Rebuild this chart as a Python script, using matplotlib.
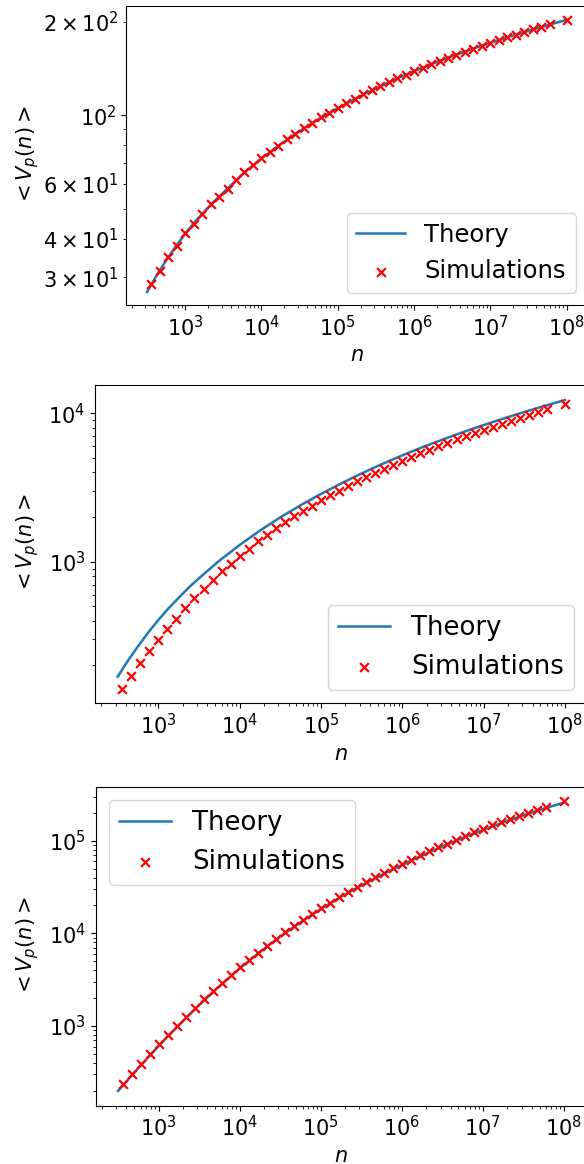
import matplotlib
matplotlib.use("Agg")
import matplotlib.pyplot as plt

# ---------------- data ----------------
n_theory = [316.2, 421.7, 562.3, 749.9, 1000, 1333.5, 1778, 2371.4, 3162, 5623, 1.0e4,
            1.7783e4, 3.1623e4, 5.6234e4, 1.0e5, 1.77828e5, 3.16228e5, 5.62341e5, 1.0e6,
            1.778279e6, 3.162278e6, 5.623413e6, 1.0e7, 1.7782794e7, 3.1622777e7,
            5.6234133e7, 1.0e8]

n_sim = [359.4, 464.2, 599.5, 774.3, 1000, 1291.5, 1668.1, 2154.4, 2782.6, 3593.8,
         4641.6, 5994.8, 7742.6, 1.0e4, 1.2915e4, 1.6681e4, 2.1544e4, 2.7826e4, 3.5938e4,
         4.6416e4, 5.9948e4, 7.7426e4, 1.0e5, 1.2915e5, 1.6681e5, 2.1544e5, 2.7826e5,
         3.5938e5, 4.6416e5, 5.9948e5, 7.7426e5, 1.0e6, 1.2915e6, 1.6681e6, 2.1544e6,
         2.7826e6, 3.5938e6, 4.6416e6, 5.9948e6, 7.7426e6, 1.0e7, 1.2915e7, 1.6681e7,
         2.1544e7, 2.7826e7, 3.5938e7, 4.6416e7, 5.9948e7, 1.0e8]

theory_top = [26.9, 30.4, 34.0, 37.7, 41.5, 45.2, 48.9, 52.6, 56.3, 64.5, 72.6, 80.7,
              88.9, 97.2, 105.4, 113.8, 122.1, 130.5, 138.8, 147.0, 155.2, 163.3, 171.3,
              179.3, 187.3, 195.3, 203.2]
sim_top = [28.5, 31.5, 34.8, 38.0, 41.6, 44.6, 47.9, 51.6, 54.6, 57.9, 61.8, 65.8, 69.3,
           73.0, 76.0, 79.8, 83.7, 86.9, 90.8, 94.2, 98.5, 102.0, 105.5, 109.2, 113.0,
           116.7, 120.4, 124.1, 127.8, 131.5, 135.2, 139.0, 142.6, 146.2, 149.8, 153.4,
           157.0, 160.6, 164.2, 167.8, 171.3, 174.9, 178.5, 182.1, 185.7, 189.3, 192.9,
           196.5, 203.5]

theory_mid = [168, 215, 269, 333, 405, 485, 571, 670, 774, 1016, 1297, 1622, 1991, 2404,
              2864, 3373, 3936, 4550, 5212, 5916, 6668, 7482, 8337, 9247, 10209, 11220,
              12303]
sim_mid = [138, 171, 209, 249, 296, 350, 412, 485, 566, 656, 755, 861, 973, 1096, 1227,
           1371, 1521, 1679, 1845, 2023, 2203, 2393, 2600, 2805, 3020, 3243, 3483, 3724,
           3981, 4246, 4519, 4797, 5082, 5383, 5689, 5998, 6339, 6668, 7031, 7379, 7762,
           8128, 8531, 8913, 9311, 9750, 10162, 10617, 11561]

theory_bot = [199, 265, 351, 462, 607, 790, 1023, 1315, 1679, 2685, 4169, 6295, 9226,
              13152, 18281, 24831, 32885, 42658, 54702, 69183, 86696, 107152, 130918,
              157761, 187932, 221820, 258226]
sim_bot = [237, 304, 390, 498, 635, 802, 1009, 1259, 1567, 1936, 2382, 2917, 3540, 4295,
           5152, 6180, 7345, 8710, 10257, 12023, 14028, 16218, 18793, 21528, 24660, 28054,
           31769, 35810, 40179, 45082, 50350, 56234, 62373, 69343, 76736, 84723, 93325,
           102565, 112720, 123027, 134586, 146218, 159221, 172187, 186209, 201372, 216770,
           233346, 269153]

x_ticks = [1e3, 1e4, 1e5, 1e6, 1e7, 1e8]
labels = ["Theory", "Simulations"]
ylabel = r"$<V_p(n)>$"
xlabel = r"$n$"

# ---------------- figure ----------------
W, H = 584, 1164
fig = plt.figure(figsize=(W / 100, H / 100), dpi=100)

def px_axes(left, top, right, bottom):
    return fig.add_axes([left / W, 1 - bottom / H, (right - left) / W, (bottom - top) / H])

panels = [
    dict(box=(126, 6, 587.7, 305), ylim=(24.43, 225.2), th=theory_top, sm=sim_top,
         loc="lower right", lfs=17.5, ylx=41),
    dict(box=(95.3, 384.7, 587.3, 703.3), ylim=(111.2, 15596), th=theory_mid, sm=sim_mid,
         loc="lower right", lfs=18.7, ylx=41),
    dict(box=(95.7, 786.7, 586.3, 1105.7), ylim=(138.0, 3.83e5), th=theory_bot, sm=sim_bot,
         loc="upper left", lfs=18.7, ylx=41),
]

for p in panels:
    l, t, r, b = p["box"]
    ax = px_axes(l, t, r, b)
    ax.plot(n_theory, p["th"], color="tab:blue", lw=1.8, label=labels[0])
    ax.scatter(n_sim, p["sm"], marker="x", color="red", s=40, linewidths=1.6,
               label=labels[1], zorder=3)
    ax.set_xscale("log")
    ax.set_yscale("log")
    ax.set_xticks(x_ticks)
    ax.set_xlim(10 ** 2.225, 10 ** 8.275)
    ax.set_ylim(*p["ylim"])
    ax.tick_params(axis="both", which="major", labelsize=15)
    ax.tick_params(axis="both", which="minor", labelsize=15)
    ax.set_xlabel(xlabel, fontsize=15)
    ax.set_ylabel(ylabel, fontsize=15)
    ax.yaxis.set_label_coords((p["ylx"] - l) / (r - l), 0.5)
    ax.legend(loc=p["loc"], fontsize=p["lfs"])

fig.savefig("out.png", dpi=100)
